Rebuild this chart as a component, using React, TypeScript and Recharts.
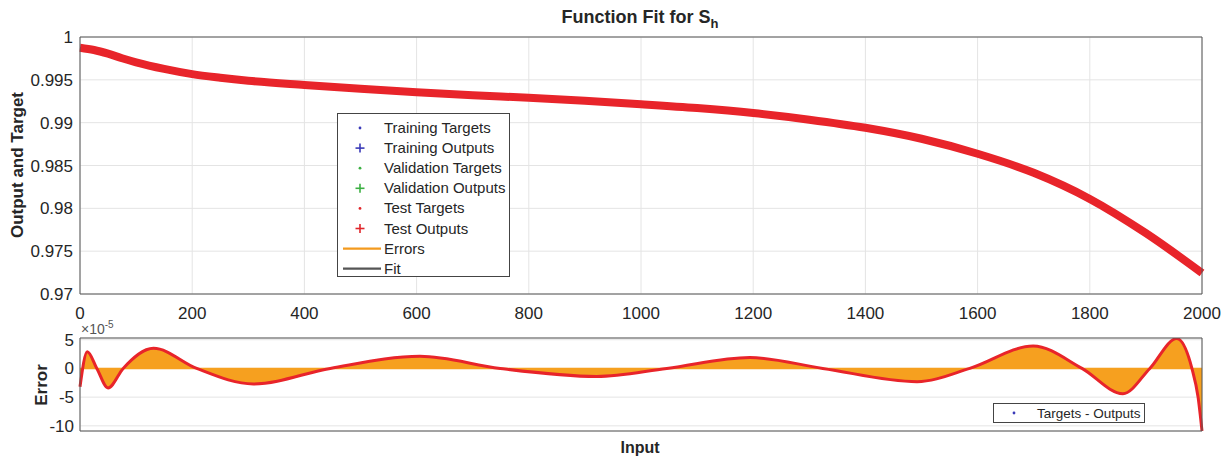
import React from 'react';
import {
  LineChart,
  Line,
  ComposedChart,
  Area,
  XAxis,
  YAxis,
  CartesianGrid,
  ReferenceLine,
  Legend,
} from 'recharts';

const FONT = '"Liberation Sans", Arial, Helvetica, sans-serif';

// ---------- data ----------
const fitInputs = [0, 25, 50, 75, 100, 150, 200, 250, 300, 400, 500, 600, 700, 800, 900, 1000, 1100, 1200, 1300, 1400, 1500, 1600, 1700, 1800, 1900, 2000];
const fitValues = [0.99875, 0.99848, 0.99805, 0.99752, 0.99705, 0.99628, 0.99567, 0.99525, 0.9949, 0.9944, 0.99395, 0.99355, 0.9932, 0.9929, 0.99255, 0.99215, 0.9917, 0.99112, 0.99035, 0.9894, 0.98812, 0.98637, 0.98415, 0.9811, 0.9771, 0.97245];

const errInputs = [0, 13, 30, 50, 77, 131, 208, 309, 446, 606, 749, 921, 1046, 1194, 1324, 1492, 1586, 1699, 1786, 1859, 1907, 1955, 1982, 1993, 2000];
// error values in units of 1e-5
const errValues = [-3.2, 2.9, 0, -3.4, 0, 3.5, 0, -2.7, 0, 2.1, 0, -1.4, 0, 1.9, 0, -2.3, 0, 3.9, 0, -4.4, 0, 5.2, 0, -5, -10.9];

const xTicks = [0, 200, 400, 600, 800, 1000, 1200, 1400, 1600, 1800, 2000];
const yTicksTop = [0.97, 0.975, 0.98, 0.985, 0.99, 0.995, 1];
const yTicksErr = [-10, -5, 0, 5];

const legendLabels = ['Training Targets', 'Training Outputs', 'Validation Targets', 'Validation Outputs', 'Test Targets', 'Test Outputs', 'Errors', 'Fit'];
const legendKinds = ['dot', 'plus', 'dot', 'plus', 'dot', 'plus', 'line', 'line'];
const legendColors = ['#3a3ab8', '#3a3ab8', '#3cb043', '#3cb043', '#e0262b', '#e0262b', '#f39a1e', '#555555'];

const fitData = fitInputs.map((x, i) => ({ x, v: fitValues[i] }));
const errData = errInputs.map((x, i) => ({ x, e: errValues[i] }));

const RED = '#e8242a';
const ORANGE = '#f6a01f';
const AXIS = '#555555';
const GRID = '#e4e4e4';
const TXT = '#262626';

const TopLegend = () => (
  <svg width={174} height={165} style={{ display: 'block' }}>
    <rect x={0.5} y={0.5} width={172} height={163} fill="#fff" stroke="#444" strokeWidth={1} />
    {legendLabels.map((lab, i) => {
      const cy = 15 + i * 20.1;
      const c = legendColors[i];
      const k = legendKinds[i];
      return (
        <g key={lab}>
          {k === 'dot' && <circle cx={23} cy={cy} r={1.4} fill={c} />}
          {k === 'plus' && (
            <g stroke={c} strokeWidth={1.6}>
              <line x1={18.5} y1={cy} x2={27.5} y2={cy} />
              <line x1={23} y1={cy - 4.5} x2={23} y2={cy + 4.5} />
            </g>
          )}
          {k === 'line' && <line x1={6} y1={cy} x2={44} y2={cy} stroke={c} strokeWidth={2.2} />}
          <text x={47} y={cy + 5} fontSize={15} fill={TXT} fontFamily={FONT}>
            {lab}
          </text>
        </g>
      );
    })}
  </svg>
);

const BottomLegend = () => (
  <svg width={153} height={21} style={{ display: 'block' }}>
    <rect x={0.5} y={0.5} width={151} height={19} fill="#fff" stroke="#444" strokeWidth={1} />
    <circle cx={21} cy={10} r={1.4} fill="#3a3ab8" />
    <text x={44} y={15} fontSize={13.5} fill={TXT} fontFamily={FONT}>
      Targets - Outputs
    </text>
  </svg>
);

const fmtTop = (v: number) => String(+v.toFixed(3));

export default function App() {
  return (
    <div style={{ position: 'absolute', left: 0, top: 0, width: 1229, height: 460, background: '#fff', fontFamily: FONT }}>
      <div style={{ position: 'absolute', left: 0, top: 0 }}>
        <LineChart width={1229} height={340} data={fitData} margin={{ top: 37, right: 27, left: 0, bottom: 0 }}>
          <CartesianGrid stroke={GRID} strokeWidth={1} />
          <XAxis
            dataKey="x"
            type="number"
            domain={[0, 2000]}
            ticks={xTicks}
            interval={0}
            height={46}
            tickLine={false}
            tickSize={0}
            tickMargin={13}
            axisLine={{ stroke: AXIS }}
            tick={{ fill: TXT, fontSize: 17, fontFamily: FONT }}
          />
          <XAxis xAxisId="t" orientation="top" mirror type="number" domain={[0, 2000]} ticks={xTicks} interval={0} tick={false} tickSize={10} tickLine={{ stroke: AXIS }} axisLine={{ stroke: AXIS }} />
          <XAxis xAxisId="bm" orientation="bottom" mirror type="number" domain={[0, 2000]} ticks={xTicks} interval={0} tick={false} tickSize={10} tickLine={{ stroke: AXIS }} axisLine={false} />
          <YAxis
            type="number"
            domain={[0.97, 1]}
            ticks={yTicksTop}
            interval={0}
            width={80}
            allowDataOverflow
            tickLine={false}
            tickSize={0}
            tickMargin={7}
            tickFormatter={fmtTop}
            axisLine={{ stroke: AXIS }}
            tick={{ fill: TXT, fontSize: 17, fontFamily: FONT }}
          />
          <YAxis yAxisId="lm" mirror type="number" domain={[0.97, 1]} ticks={yTicksTop} interval={0} tick={false} tickSize={10} tickLine={{ stroke: AXIS }} axisLine={false} />
          <YAxis yAxisId="r" orientation="right" mirror type="number" domain={[0.97, 1]} ticks={yTicksTop} interval={0} tick={false} tickSize={10} tickLine={{ stroke: AXIS }} axisLine={{ stroke: AXIS }} />
          <Line type="monotone" dataKey="v" stroke={RED} strokeWidth={8} dot={false} isAnimationActive={false} />
          <Legend
            layout="vertical"
            align="center"
            verticalAlign="middle"
            content={() => <TopLegend />}
            wrapperStyle={{ position: 'absolute', left: 337, top: 113, width: 174, height: 165 }}
          />
        </LineChart>
      </div>
      <div style={{ position: 'absolute', left: 0, top: 320 }}>
        <ComposedChart width={1229} height={140} data={errData} margin={{ top: 18, right: 27, left: 0, bottom: 0 }}>
          <CartesianGrid stroke={GRID} strokeWidth={1} />
          <XAxis dataKey="x" type="number" domain={[0, 2000]} ticks={xTicks} interval={0} height={29} tick={false} tickLine={false} axisLine={{ stroke: AXIS }} />
          <XAxis xAxisId="t" orientation="top" mirror type="number" domain={[0, 2000]} ticks={xTicks} interval={0} tick={false} tickSize={9} tickLine={{ stroke: AXIS }} axisLine={{ stroke: AXIS }} />
          <XAxis xAxisId="bm" orientation="bottom" mirror type="number" domain={[0, 2000]} ticks={xTicks} interval={0} tick={false} tickSize={9} tickLine={{ stroke: AXIS }} axisLine={false} />
          <YAxis
            type="number"
            domain={[-10.9, 5.3]}
            ticks={yTicksErr}
            interval={0}
            width={80}
            allowDataOverflow
            tickLine={false}
            tickSize={0}
            tickMargin={6}
            axisLine={{ stroke: AXIS }}
            tick={{ fill: TXT, fontSize: 17, fontFamily: FONT }}
          />
          <YAxis yAxisId="lm" mirror type="number" domain={[-10.9, 5.3]} ticks={yTicksErr} interval={0} tick={false} tickSize={10} tickLine={{ stroke: AXIS }} axisLine={false} />
          <YAxis yAxisId="r" orientation="right" mirror type="number" domain={[-10.9, 5.3]} ticks={yTicksErr} interval={0} tick={false} tickSize={10} tickLine={{ stroke: AXIS }} axisLine={{ stroke: AXIS }} />
          <Area type="monotone" dataKey="e" baseValue={0} fill={ORANGE} fillOpacity={1} stroke="none" isAnimationActive={false} />
          <ReferenceLine y={0} stroke={ORANGE} strokeWidth={1.5} />
          <Line type="monotone" dataKey="e" stroke={RED} strokeWidth={3} dot={false} isAnimationActive={false} />
          <Legend
            layout="vertical"
            align="center"
            verticalAlign="middle"
            content={() => <BottomLegend />}
            wrapperStyle={{ position: 'absolute', left: 993, top: 83, width: 153, height: 21 }}
          />
        </ComposedChart>
      </div>
      <svg width={1229} height={460} style={{ position: 'absolute', left: 0, top: 0, pointerEvents: 'none' }}>
        <text x={640} y={23} textAnchor="middle" fontFamily={FONT} fontWeight="bold" fontSize={18} fill={TXT}>
          Function Fit for S<tspan dy={5} fontSize={13}>h</tspan>
        </text>
        <text transform="translate(23,165) rotate(-90)" textAnchor="middle" fontFamily={FONT} fontWeight="bold" fontSize={17} fill={TXT}>
          Output and Target
        </text>
        <text transform="translate(47,385) rotate(-90)" textAnchor="middle" fontFamily={FONT} fontWeight="bold" fontSize={17} fill={TXT}>
          Error
        </text>
        <text x={640} y={453} textAnchor="middle" fontFamily={FONT} fontWeight="bold" fontSize={16} fill={TXT}>
          Input
        </text>
        <text x={81} y={334} fontFamily={FONT} fontSize={14} fill="#555">
          ×10<tspan dy={-6} fontSize={10}>-5</tspan>
        </text>
      </svg>
    </div>
  );
}
